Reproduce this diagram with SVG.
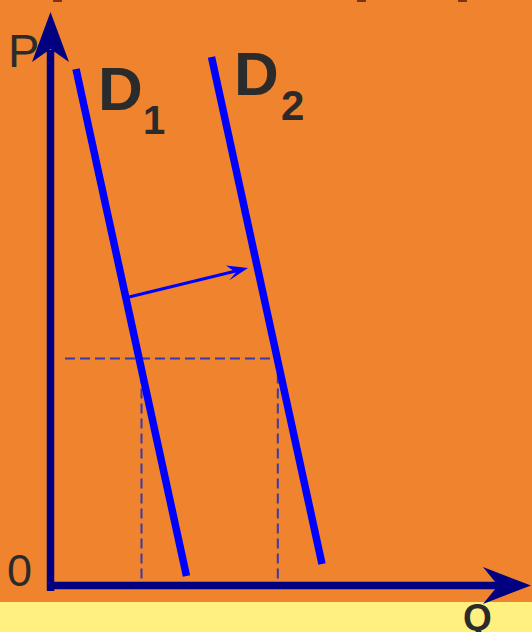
<svg xmlns="http://www.w3.org/2000/svg" width="532" height="632" viewBox="0 0 532 632">
  <style>
    .lbl { font-family: "Liberation Sans", Arial, sans-serif; fill: #2b2b2b; }
    .b { font-weight: bold; }
    .axis { stroke: #000080; stroke-width: 7.5; fill: none; }
    .curve { stroke: #0000ff; stroke-width: 7.5; fill: none; }
    .dash { stroke: #3838b0; stroke-width: 2; stroke-dasharray: 10 5; fill: none; }
  </style>
  <rect x="0" y="0" width="532" height="632" fill="#f0842e"/>
  <rect x="0" y="602" width="532" height="30" fill="#fff080"/>
  <g id="top-marks" fill="#7a3518">
    <rect x="53" y="0" width="9" height="2"/>
    <rect x="357" y="0" width="9" height="2"/>
    <rect x="458" y="0" width="9" height="2"/>
  </g>
  <g id="connectors">
    <path class="dash" d="M65,358.5 H278"/>
    <path class="dash" d="M141.5,358.5 V585"/>
    <path class="dash" d="M277.8,358.5 V585"/>
    <line class="curve" x1="76" y1="69" x2="186.5" y2="576"/>
    <line class="curve" x1="211.5" y1="57" x2="322" y2="564"/>
    <line x1="129" y1="297" x2="240" y2="270" stroke="#0000ff" stroke-width="3"/>
    <path d="M248,268 L226,265.5 L236,272.5 L229,280.5 Z" fill="#0000ff"/>
  </g>
  <g id="axes">
    <line class="axis" x1="50.5" y1="591" x2="50.5" y2="50"/>
    <path d="M50.5,12 L69,62 L50.5,49 L32,62 Z" fill="#000080"/>
    <line class="axis" x1="47" y1="585.5" x2="500" y2="585.5"/>
    <path d="M531,585.5 L483,567 L498,585.5 L483,604 Z" fill="#000080"/>
  </g>
  <g id="labels">
    <text class="lbl" x="8" y="67" font-size="47">P</text>
    <text class="lbl" x="7" y="586" font-size="45">0</text>
    <text class="lbl b" x="463" y="630" font-size="37">Q</text>
    <text class="lbl b" x="98" y="110" font-size="62">D</text>
    <text class="lbl b" x="143" y="134" font-size="40">1</text>
    <text class="lbl b" x="234" y="95" font-size="62">D</text>
    <text class="lbl b" x="281" y="120" font-size="42">2</text>
  </g>
</svg>
